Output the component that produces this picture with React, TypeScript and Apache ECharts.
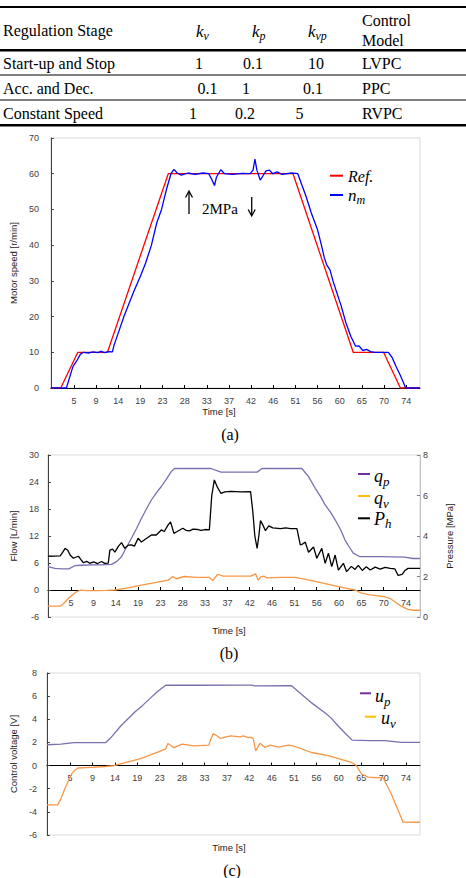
import React, { useEffect, useRef } from 'react';
import * as echarts from 'echarts';

const SANS = "'Liberation Sans', Arial, sans-serif";
const SERIF = "'Liberation Serif', 'Times New Roman', serif";

// ---------- table data ----------
const stages = ['Start-up and Stop', 'Acc. and Dec.', 'Constant Speed'];
const kvValues = ['1', '0.1', '1'];
const kpValues = ['0.1', '1', '0.2'];
const kvpValues = ['10', '0.1', '5'];
const models = ['LVPC', 'PPC', 'RVPC'];

// ---------- axis ticks ----------
const X_MIN = 0.23;
const X_MAX = 76.87;
const tickLabels = ['5', '9', '14', '19', '23', '28', '33', '37', '42', '46', '51', '56', '60', '65', '70', '74'];
const tickTimes = [5.0, 9.6, 14.2, 18.8, 23.4, 28.0, 32.6, 37.2, 41.8, 46.4, 51.0, 55.6, 60.2, 64.8, 69.4, 74.0];

// ---------- (a) motor speed [r/min] ----------
const refSpeed = [[0.23, 0], [2.27, 0], [5.82, 10], [11.97, 10], [24.6, 60], [50.5, 60], [63.0, 10], [69.3, 10], [72.8, 0], [76.87, 0]];
const motorSpeed = [
  [0.23, 0], [3.44, 0], [3.9, 2], [4.8, 6], [5.55, 7.5], [6.37, 9.5], [7.05, 10], [8.0, 9.8], [9.0, 10.1], [10.0, 9.9],
  [10.6, 10.3], [11.3, 9.9], [12.2, 10.2], [13.0, 10.1], [13.34, 12], [14.37, 16], [15.39, 20], [16.41, 23.5], [17.44, 27],
  [18.81, 31.3], [19.9, 35], [21.1, 40], [22.2, 46.2], [23.2, 50], [24.2, 55.5], [25.16, 60], [25.78, 61.2], [26.45, 60.2],
  [27.3, 59.6], [28.7, 60.2], [30.1, 59.8], [31.8, 60.2], [33.0, 60], [33.6, 58.5], [34.2, 56.7], [34.6, 59], [35.5, 61.1],
  [36.3, 60], [37.9, 59.8], [40.0, 60.1], [41.6, 60], [42.2, 61], [42.6, 64.1], [43.0, 61], [43.7, 58.2], [44.3, 59.5],
  [44.9, 60.8], [45.6, 61], [46.3, 60], [47.2, 60.5], [48.2, 59.8], [50.2, 60.2], [51.5, 60], [52.3, 57], [53.2, 53.7],
  [54.3, 49], [55.6, 44.3], [56.4, 40], [57.0, 36.5], [57.5, 34.5], [58.2, 33], [58.8, 30], [59.4, 27.5], [60.5, 23],
  [61.5, 18.2], [62.5, 14.5], [63.5, 11.7], [64.2, 11.8], [65.0, 10.5], [65.8, 10.8], [66.6, 10.2], [67.6, 10], [70.3, 10],
  [71.1, 8.5], [71.9, 6], [72.8, 3.5], [73.9, 0], [76.87, 0],
];

// ---------- (b) flow [L/min] and pressure [MPa] ----------
const pumpFlow = [
  [0.23, 5.2], [1.66, 4.8], [3.09, 4.7], [4.53, 4.7], [5.76, 5.4], [7.19, 5.5], [9.24, 5.6], [11.29, 5.6], [13.34, 5.7],
  [14.37, 6.3], [15.39, 7.4], [16.41, 9.5], [17.44, 11.5], [18.46, 13.6], [19.49, 15.9], [20.51, 18.0], [21.54, 20.0],
  [22.56, 21.6], [23.59, 23.0], [24.61, 24.6], [25.63, 26.3], [26.31, 27.0], [33.83, 27.0], [35.88, 26.2], [43.32, 26.2],
  [44.34, 27.0], [52.54, 27.0], [53.91, 25.2], [55.29, 22.6], [56.37, 20.8], [57.34, 18.9], [58.42, 17.3], [59.39, 15.6],
  [60.47, 13.5], [61.43, 11.1], [62.32, 9.5], [63.14, 8.2], [64.51, 7.4], [68.67, 7.4], [73.73, 7.3], [75.43, 7.0], [76.87, 7.0],
];
const valveFlow = [
  [0.23, -3.6], [2.75, -3.6], [3.5, -3.0], [4.32, -2.0], [5.14, -1.2], [5.96, -0.5], [6.84, -0.05], [8.22, -0.15],
  [10.27, -0.15], [12.32, -0.1], [14.02, 0.0], [16.41, 0.4], [19.49, 1.1], [22.56, 1.7], [24.96, 2.2], [25.98, 3.0],
  [26.66, 2.5], [28.36, 3.0], [30.76, 2.8], [33.48, 2.8], [34.18, 2.1], [35.2, 3.5], [36.29, 3.1], [39.98, 3.1], [42.03, 3.1],
  [42.99, 3.6], [43.52, 2.2], [44.08, 2.9], [44.69, 3.1], [45.31, 2.7], [48.18, 2.8], [51.19, 2.8], [53.1, 2.4], [55.29, 1.9],
  [57.34, 1.4], [59.39, 0.9], [61.5, 0.4], [63.48, 0.0], [64.84, -0.7], [66.62, -1.1], [69.63, -1.5], [70.72, -1.9],
  [71.68, -2.6], [72.97, -3.6], [74.4, -4.3], [75.63, -4.5], [76.87, -4.5],
];
const pressure = [
  [0.23, 3.0], [2.75, 3.02], [3.3, 3.2], [3.77, 3.39], [4.32, 3.3], [4.84, 3.05], [5.49, 2.9], [5.96, 2.95], [6.52, 3.0],
  [6.99, 2.85], [7.54, 2.68], [8.22, 2.75], [8.83, 2.65], [9.65, 2.72], [10.47, 2.64], [11.29, 2.74], [11.91, 2.65],
  [12.66, 2.66], [12.99, 3.3], [13.55, 3.35], [14.02, 3.2], [14.77, 3.5], [15.39, 3.67], [16.07, 3.39], [16.82, 3.55],
  [17.44, 3.56], [18.05, 3.5], [18.81, 3.89], [19.49, 3.7], [20.51, 3.88], [21.54, 4.05], [22.56, 4.05], [23.59, 4.3],
  [24.2, 4.22], [24.96, 4.54], [25.49, 4.7], [26.19, 4.13], [26.86, 4.22], [28.03, 4.38], [28.71, 4.28], [29.39, 4.25],
  [30.14, 4.34], [31.11, 4.32], [31.78, 4.28], [32.6, 4.32], [33.48, 4.3], [33.98, 6.0], [34.51, 6.77], [35.16, 6.4],
  [35.88, 6.1], [36.7, 6.18], [37.93, 6.2], [39.98, 6.18], [41.97, 6.19], [42.44, 5.2], [42.85, 4.0], [43.32, 3.39],
  [43.67, 4.0], [44.02, 4.76], [44.49, 4.55], [45.04, 4.26], [45.72, 4.5], [46.54, 4.4], [48.18, 4.36], [49.2, 4.4],
  [50.23, 4.36], [51.52, 4.36], [52.21, 3.56], [52.68, 3.6], [53.24, 3.7], [53.91, 3.2], [54.94, 3.46], [55.61, 2.9],
  [56.64, 3.39], [57.34, 2.65], [58.01, 3.15], [58.69, 2.49], [59.39, 3.06], [60.06, 2.32], [61.09, 2.65], [61.76, 2.24],
  [62.73, 2.5], [63.48, 2.35], [64.16, 2.55], [64.98, 2.3], [65.8, 2.48], [66.62, 2.32], [67.64, 2.46], [68.67, 2.36],
  [69.69, 2.45], [70.72, 2.4], [71.68, 2.38], [72.36, 2.05], [73.18, 2.1], [73.79, 2.3], [74.4, 2.4], [76.87, 2.4],
];

// ---------- (c) control voltage [V] ----------
const pumpVoltage = [
  [0.23, 1.8], [3.09, 1.85], [5.82, 1.99], [12.32, 1.99], [13.34, 2.4], [15.39, 3.42], [18.46, 4.7], [19.9, 5.2],
  [21.54, 5.85], [22.97, 6.4], [24.61, 6.94], [31.78, 6.94], [39.98, 6.95], [42.3, 6.95], [42.85, 6.88], [50.49, 6.9],
  [52.21, 6.28], [54.59, 5.42], [57.34, 4.57], [58.63, 4.1], [60.06, 3.42], [61.5, 2.8], [62.93, 2.2], [66.62, 2.15],
  [69.63, 2.15], [73.03, 2.0], [76.87, 2.0],
];
const valveVoltage = [
  [0.23, -3.4], [2.42, -3.4], [3.09, -2.9], [3.77, -2.16], [4.8, -1.16], [5.35, -0.7], [5.82, -0.45], [6.64, -0.21],
  [9.24, -0.15], [12.32, -0.08], [14.02, 0.0], [19.49, 0.6], [24.61, 1.42], [25.08, 1.9], [25.64, 1.75], [26.31, 1.55],
  [28.03, 1.85], [30.41, 1.7], [33.48, 1.76], [33.83, 2.2], [34.39, 2.76], [35.06, 2.6], [35.88, 2.36], [37.93, 2.56],
  [39.98, 2.48], [40.59, 2.56], [41.62, 2.42], [42.23, 2.45], [42.64, 2.3], [43.11, 1.27], [44.02, 1.92], [45.04, 1.56],
  [46.07, 1.76], [47.77, 1.6], [49.82, 1.76], [50.84, 1.7], [54.59, 1.13], [58.01, 0.85], [62.79, 0.27], [63.81, 0.0],
  [64.84, -0.73], [66.21, -1.0], [67.64, -1.05], [69.28, -1.05], [70.98, -2.45], [73.38, -4.88], [76.87, -4.9],
];

const C_RED = '#FF0000';
const C_BLUE = '#0000FF';
const C_PURPLE = '#7B6FB0';
const C_PURPLE_LEG = '#7030A0';
const C_ORANGE = '#F79646';
const C_YELLOW = '#FFC000';
const C_LABEL = '#404040';

// grid geometry (pixels)
const G_LEFT = 46;
const G_WIDTH = 374;
const GA = { top: 138, height: 250 };
const GB = { top: 455, height: 162 };
const GC = { top: 673, height: 162 };
const FLOW_MIN = -6, FLOW_MAX = 30;
const VOLT_MIN = -6, VOLT_MAX = 8;
// distance from the grid bottom to the zero line
const zeroOffset = (h: number, min: number, max: number) => -(h * (0 - min)) / (max - min);

function labelFor(v: number) {
  for (let i = 0; i < tickTimes.length; i++) {
    if (Math.abs(tickTimes[i] - v) < 0.05) return tickLabels[i];
  }
  return '';
}

function xAxisCfg(gridIndex: number, offset: number) {
  return {
    type: 'value',
    gridIndex,
    position: 'bottom',
    offset,
    min: X_MIN,
    max: X_MAX,
    splitLine: { show: false },
    axisLine: { show: true, onZero: false, lineStyle: { color: '#000', width: 1 } },
    axisTick: { show: true, inside: true, length: 3, customValues: tickTimes, lineStyle: { color: '#000' } },
    axisLabel: {
      customValues: tickTimes,
      formatter: (v: number) => labelFor(v),
      fontSize: 9,
      color: C_LABEL,
      fontFamily: SANS,
      margin: 8,
    },
  };
}

function yAxisCfg(gridIndex: number, min: number, max: number, interval: number, name: string, gap: number, margin: number, position = 'left') {
  return {
    type: 'value',
    gridIndex,
    position,
    min,
    max,
    interval,
    name,
    nameLocation: 'middle',
    nameGap: gap,
    nameTextStyle: { fontSize: 9.5, color: '#222', fontFamily: SANS },
    splitLine: { show: false },
    axisLine: { show: true, onZero: false, lineStyle: { color: position === 'left' ? '#404040' : '#bfbfbf', width: 1 } },
    axisTick: { show: true, inside: true, length: 3, lineStyle: { color: position === 'left' ? '#404040' : '#808080' } },
    axisLabel: { fontSize: 9, color: C_LABEL, fontFamily: SANS, margin },
  };
}

function txt(x: number, y: number, text: string, size: number, family: string, align = 'left', extra: any = {}) {
  return {
    type: 'text',
    x,
    y,
    silent: true,
    style: { text, fontSize: size, fontFamily: family, fill: '#000', align, verticalAlign: 'middle', ...extra },
  };
}

function mathTxt(x: number, y: number, main: string, sub: string, size: number, align = 'left') {
  return {
    type: 'text',
    x,
    y,
    silent: true,
    style: {
      text: `{m|${main}}{s|${sub}}`,
      align,
      verticalAlign: 'middle',
      rich: {
        m: { fontSize: size, fontFamily: SERIF, fontStyle: 'italic', fill: '#000', lineHeight: Math.round(size * 1.25), verticalAlign: 'middle' },
        s: { fontSize: Math.round(size * 0.7), fontFamily: SERIF, fontStyle: 'italic', fill: '#000', lineHeight: Math.round(size * 0.7), verticalAlign: 'bottom' },
      },
    },
  };
}

function hline(x1: number, x2: number, y: number, color: string, w: number) {
  return { type: 'line', silent: true, shape: { x1, y1: y, x2, y2: y }, style: { stroke: color, lineWidth: w } };
}

function buildGraphic() {
  const g: any[] = [];
  // table rules
  g.push(hline(0, 466, 7, '#000', 2));
  g.push(hline(0, 466, 50.3, '#000', 2.5));
  g.push(hline(0, 466, 75, '#000', 1));
  g.push(hline(0, 466, 100, '#000', 1));
  g.push(hline(0, 466, 125.3, '#000', 2.5));
  // header
  g.push(txt(3, 30, 'Regulation Stage', 16, SERIF));
  g.push(mathTxt(196, 31, 'k', 'v', 17));
  g.push(mathTxt(252, 31, 'k', 'p', 17));
  g.push(mathTxt(308, 31, 'k', 'vp', 17));
  g.push(txt(362, 20, 'Control', 16, SERIF));
  g.push(txt(362, 40, 'Model', 16, SERIF));
  // rows
  const rowY = [63.3, 88.3, 113.3];
  const kvX = [199, 207.5, 193];
  const kpX = [253, 246, 245];
  const kvpX = [316, 313, 299.5];
  for (let i = 0; i < stages.length; i++) {
    g.push(txt(3, rowY[i], stages[i], 16, SERIF));
    g.push(txt(kvX[i], rowY[i], kvValues[i], 16, SERIF, 'center'));
    g.push(txt(kpX[i], rowY[i], kpValues[i], 16, SERIF, 'center'));
    g.push(txt(kvpX[i], rowY[i], kvpValues[i], 16, SERIF, 'center'));
    g.push(txt(362, rowY[i], models[i], 16, SERIF));
  }

  // (a) annotation arrows
  g.push({ type: 'line', silent: true, shape: { x1: 189, y1: 214, x2: 189, y2: 192 }, style: { stroke: '#000', lineWidth: 1.3 } });
  g.push({ type: 'polyline', silent: true, shape: { points: [[185.5, 197.5], [189, 191], [192.5, 197.5]] }, style: { stroke: '#000', lineWidth: 1.3, fill: null } });
  g.push(txt(202, 209, '2MPa', 15, SERIF));
  g.push({ type: 'line', silent: true, shape: { x1: 251.7, y1: 197, x2: 251.7, y2: 215 }, style: { stroke: '#000', lineWidth: 1.3 } });
  g.push({ type: 'polyline', silent: true, shape: { points: [[248.2, 209.5], [251.7, 216], [255.2, 209.5]] }, style: { stroke: '#000', lineWidth: 1.3, fill: null } });

  // legends (a)
  g.push(hline(330, 343, 175.7, C_RED, 2));
  g.push(txt(348, 176, 'Ref.', 16, SERIF, 'left', { fontStyle: 'italic' }));
  g.push(hline(330, 343, 195, C_BLUE, 2));
  g.push(mathTxt(348, 195, 'n', 'm', 17));

  // legends (b)
  g.push(hline(358, 370, 474, C_PURPLE_LEG, 2));
  g.push(mathTxt(374, 476, 'q', 'p', 18));
  g.push(hline(358, 370, 496, C_YELLOW, 2));
  g.push(mathTxt(374, 498, 'q', 'v', 18));
  g.push(hline(358, 370, 518.3, '#000', 2));
  g.push(mathTxt(374, 518.5, 'P', 'h', 18));

  // legends (c)
  g.push(hline(360, 371, 693.3, C_PURPLE_LEG, 2));
  g.push(mathTxt(375, 696, 'u', 'p', 18));
  g.push(hline(365, 376, 716.7, C_YELLOW, 2));
  g.push(mathTxt(381, 718, 'u', 'v', 18));

  // x axis titles
  g.push(txt(219, 411.7, 'Time [s]', 9.5, SANS, 'center', { fill: '#222' }));
  g.push(txt(229, 630, 'Time [s]', 9.5, SANS, 'center', { fill: '#222' }));
  g.push(txt(229, 847.7, 'Time [s]', 9.5, SANS, 'center', { fill: '#222' }));

  // captions
  g.push(txt(230, 434, '(a)', 16, SERIF, 'center'));
  g.push(txt(229, 653, '(b)', 16, SERIF, 'center'));
  g.push(txt(232, 870, '(c)', 16, SERIF, 'center'));
  return g;
}

function lineSeries(name: string, data: number[][], color: string, xi: number, yi: number) {
  return {
    type: 'line',
    name,
    data,
    xAxisIndex: xi,
    yAxisIndex: yi,
    showSymbol: false,
    symbol: 'none',
    lineStyle: { color, width: 1.3 },
    itemStyle: { color },
    silent: true,
  };
}

export default function App() {
  const ref = useRef<HTMLDivElement>(null);
  useEffect(() => {
    if (!ref.current) return;
    const chart = echarts.init(ref.current, null, { renderer: 'svg' });
    const gridBorder = { show: true, borderColor: '#d9d9d9', borderWidth: 1, containLabel: false };
    chart.setOption({
      animation: false,
      backgroundColor: '#fff',
      grid: [
        { left: G_LEFT, width: G_WIDTH, ...GA, ...gridBorder },
        { left: G_LEFT, width: G_WIDTH, ...GB, ...gridBorder },
        { left: G_LEFT, width: G_WIDTH, ...GC, ...gridBorder },
      ],
      xAxis: [
        xAxisCfg(0, 0),
        xAxisCfg(1, zeroOffset(GB.height, FLOW_MIN, FLOW_MAX)),
        xAxisCfg(2, zeroOffset(GC.height, VOLT_MIN, VOLT_MAX)),
      ],
      yAxis: [
        yAxisCfg(0, 0, 70, 10, 'Motor speed [r/min]', 24, 12),
        yAxisCfg(1, FLOW_MIN, FLOW_MAX, 6, 'Flow [L/min]', 24, 9),
        yAxisCfg(1, 0, 8, 2, 'Pressure [MPa]', 24, 3, 'right'),
        yAxisCfg(2, VOLT_MIN, VOLT_MAX, 2, 'Control voltage [V]', 22, 10),
      ],
      series: [
        lineSeries('Ref.', refSpeed, C_RED, 0, 0),
        lineSeries('n_m', motorSpeed, C_BLUE, 0, 0),
        lineSeries('q_p', pumpFlow, C_PURPLE, 1, 1),
        lineSeries('q_v', valveFlow, C_ORANGE, 1, 1),
        lineSeries('P_h', pressure, '#000', 1, 2),
        lineSeries('u_p', pumpVoltage, C_PURPLE, 2, 3),
        lineSeries('u_v', valveVoltage, C_ORANGE, 2, 3),
      ],
      graphic: buildGraphic(),
    });
    return () => chart.dispose();
  }, []);
  return <div ref={ref} style={{ position: 'absolute', left: 0, top: 0, width: 466, height: 878 }} />;
}
